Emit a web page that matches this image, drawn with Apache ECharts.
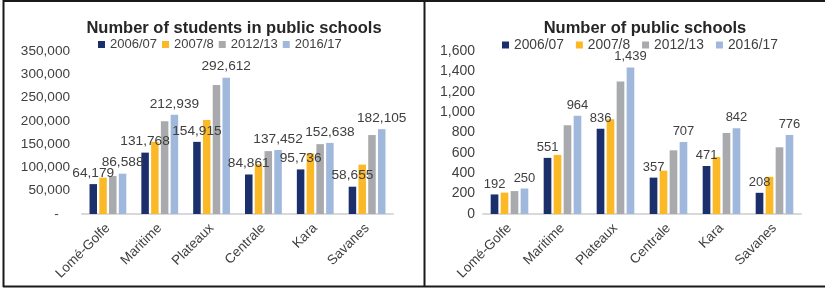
<!DOCTYPE html>
<html>
<head>
<meta charset="utf-8">
<script src="https://cdn.jsdelivr.net/npm/echarts@6/dist/echarts.min.js"></script>
<style>
  html, body { margin: 0; padding: 0; background: #fff; }
  #chart { width: 825px; height: 288px; }
</style>
</head>
<body>
<div id="chart"></div>
<script>
const regions = ['Lomé-Golfe', 'Maritime', 'Plateaux', 'Centrale', 'Kara', 'Savanes'];
const years   = ['2006/07', '2007/8', '2012/13', '2016/17'];
const colors  = ['#1a2f6c', '#fbb927', '#a9aaad', '#9fb8dc'];

// students in public schools
const students_0607 = [64179, 131768, 154915, 84861, 95736, 58655];
const students_0708 = [78000, 155000, 202000, 107000, 130000, 106000];
const students_1213 = [81500, 199000, 277000, 135000, 150000, 169500];
const students_1617 = [86588, 212939, 292612, 137452, 152638, 182105];

// public schools
const schools_0607 = [192, 551, 836, 357, 471, 208];
const schools_0708 = [210, 580, 930, 425, 560, 365];
const schools_1213 = [225, 870, 1300, 625, 795, 655];
const schools_1617 = [250, 964, 1439, 707, 842, 776];

const students = [students_0607, students_0708, students_1213, students_1617];
const schools  = [schools_0607, schools_0708, schools_1213, schools_1617];

const FONT = 'Liberation Sans, Arial, sans-serif';
const fmt  = v => v.toLocaleString('en-US');

function makeSeries(sets, idx, fontSize) {
    return sets.map((data, i) => ({
        name: years[i],
        type: 'bar',
        xAxisIndex: idx,
        yAxisIndex: idx,
        data: data,
        itemStyle: { color: colors[i] },
        barGap: '30%',
        barCategoryGap: '29%',
        label: {
            show: i == 0 || i == 3,
            position: 'top',
            distance: 4,
            color: '#404040',
            fontFamily: FONT,
            fontSize: fontSize,
            formatter: p => fmt(p.value)
        }
    }));
}

function xAxisFor(idx) {
    return {
        type: 'category',
        gridIndex: idx,
        data: regions,
        axisLine: { lineStyle: { color: '#d9d9d9', width: 2 } },
        axisTick: { show: false },
        axisLabel: { rotate: 45, color: '#404040', fontFamily: FONT, fontSize: 13.5, margin: 12, interval: 0 }
    };
}

const chart = echarts.init(document.getElementById('chart'));
chart.setOption({
    animation: false,
    title: [
        { text: 'Number of students in public schools', left: 229, top: 15, textAlign: 'center',
          textStyle: { fontFamily: FONT, fontSize: 16.5, fontWeight: 'bold', color: '#262626' } },
        { text: 'Number of public schools', left: 640, top: 15, textAlign: 'center',
          textStyle: { fontFamily: FONT, fontSize: 16.5, fontWeight: 'bold', color: '#262626' } }
    ],
    legend: [
        { data: years, left: 93, top: 33, itemWidth: 7, itemHeight: 7, itemGap: 5, icon: 'rect',
          textStyle: { fontFamily: FONT, fontSize: 13, color: '#404040' },
          selectedMode: false },
        { data: years, left: 497, top: 33, itemWidth: 7, itemHeight: 7, itemGap: 12, icon: 'rect',
          textStyle: { fontFamily: FONT, fontSize: 13.8, color: '#404040' },
          selectedMode: false }
    ],
    grid: [
        { left: 82, right: 432, top: 51, bottom: 74 },
        { left: 483, right: 24, top: 51, bottom: 74 }
    ],
    xAxis: [xAxisFor(0), xAxisFor(1)],
    yAxis: [
        { type: 'value', gridIndex: 0, min: 0, max: 350000, interval: 50000,
          axisLine: { show: false }, axisTick: { show: false }, splitLine: { show: false },
          axisLabel: { color: '#404040', fontFamily: FONT, fontSize: 13.6, margin: 12,
                       formatter: v => v == 0 ? '-   ' : fmt(v) } },
        { type: 'value', gridIndex: 1, min: 0, max: 1600, interval: 200,
          axisLine: { show: false }, axisTick: { show: false }, splitLine: { show: false },
          axisLabel: { color: '#404040', fontFamily: FONT, fontSize: 14, margin: 8,
                       formatter: v => fmt(v) } }
    ],
    series: makeSeries(students, 0, 13.7).concat(makeSeries(schools, 1, 13)),
    graphic: [
        { type: 'line', shape: { x1: 3, y1: 1, x2: 825, y2: 1 }, style: { stroke: '#1a1a1a', lineWidth: 2 } },
        { type: 'line', shape: { x1: 3.5, y1: 0, x2: 3.5, y2: 287 }, style: { stroke: '#1a1a1a', lineWidth: 2 } },
        { type: 'line', shape: { x1: 424.5, y1: 0, x2: 424.5, y2: 287 }, style: { stroke: '#1a1a1a', lineWidth: 2 } },
        { type: 'line', shape: { x1: 3, y1: 286.5, x2: 825, y2: 286.5 }, style: { stroke: '#1a1a1a', lineWidth: 2 } }
    ]
});
</script>
</body>
</html>
